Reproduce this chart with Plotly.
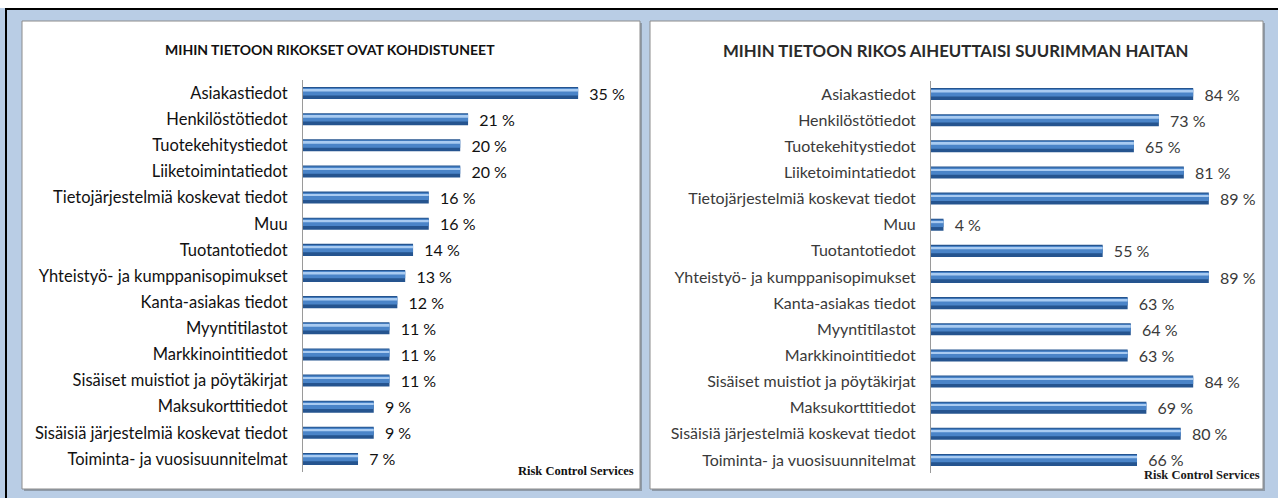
import plotly.graph_objects as go

W, H = 1278, 498

categories_left = [
    "Asiakastiedot", "Henkilöstötiedot", "Tuotekehitystiedot", "Liiketoimintatiedot",
    "Tietojärjestelmiä koskevat tiedot", "Muu", "Tuotantotiedot",
    "Yhteistyö- ja kumppanisopimukset", "Kanta-asiakas tiedot", "Myyntitilastot",
    "Markkinointitiedot", "Sisäiset muistiot ja pöytäkirjat", "Maksukorttitiedot",
    "Sisäisiä järjestelmiä koskevat tiedot", "Toiminta- ja vuosisuunnitelmat",
]
values_left = [35, 21, 20, 20, 16, 16, 14, 13, 12, 11, 11, 11, 9, 9, 7]

categories_right = [
    "Asiakastiedot", "Henkilöstötiedot", "Tuotekehitystiedot", "Liiketoimintatiedot",
    "Tietojärjestelmiä koskevat tiedot", "Muu", "Tuotantotiedot",
    "Yhteistyö- ja kumppanisopimukset", "Kanta-asiakas tiedot", "Myyntitilastot",
    "Markkinointitiedot", "Sisäiset muistiot ja pöytäkirjat", "Maksukorttitiedot",
    "Sisäisiä järjestelmiä koskevat tiedot", "Toiminta- ja vuosisuunnitelmat",
]
values_right = [84, 73, 65, 81, 89, 4, 55, 89, 63, 64, 63, 84, 69, 80, 66]

title_left = "MIHIN TIETOON RIKOKSET OVAT KOHDISTUNEET"
title_right = "MIHIN TIETOON RIKOS AIHEUTTAISI SUURIMMAN HAITAN"
source_text = "Risk Control Services"

FONT = "Lato"
BG = "#B9CDE5"
LBL = 16.5


def fx(x):
    return x / W


def fy(y):
    return 1 - y / H


fig = go.Figure()


def add_bars(cats, vals, xa, ya, textcolor):
    fig.add_trace(go.Bar(
        x=vals, y=cats, orientation="h", xaxis=xa, yaxis=ya,
        width=0.46, offset=-0.23,
        marker=dict(color="#25548F", line=dict(width=0)),
        text=vals, texttemplate="\u00a0\u00a0%{x} %", textposition="outside",
        constraintext="none", cliponaxis=False,
        textfont=dict(family=FONT, size=16, color=textcolor),
        hoverinfo="skip", showlegend=False,
    ))
    fig.add_trace(go.Bar(
        x=vals, y=cats, orientation="h", xaxis=xa, yaxis=ya,
        width=0.28, offset=-0.19,
        marker=dict(color="#4A84C8", line=dict(width=0)),
        hoverinfo="skip", showlegend=False,
    ))
    fig.add_trace(go.Bar(
        x=vals, y=cats, orientation="h", xaxis=xa, yaxis=ya,
        width=0.07, offset=-0.13,
        marker=dict(color="#A9CBF1", line=dict(width=0)),
        hoverinfo="skip", showlegend=False,
    ))


add_bars(categories_left, values_left, "x", "y", "#111111")
add_bars(categories_right, values_right, "x2", "y2", "#3A3A3A")

axis_common_y = dict(
    type="category", autorange="reversed", showgrid=False, zeroline=False,
    showline=True, linecolor="#9A9A9A", linewidth=1, ticks="",
    ticklabelstandoff=11,
)

fig.update_layout(
    width=W, height=H,
    margin=dict(l=0, r=0, t=0, b=0),
    paper_bgcolor=BG, plot_bgcolor="rgba(0,0,0,0)",
    barmode="overlay",
    xaxis=dict(domain=[fx(303), fx(630)], range=[0, 41.6], visible=False),
    yaxis=dict(domain=[fy(472), fy(80)], anchor="x",
               tickfont=dict(family=FONT, size=LBL, color="#111111"), **axis_common_y),
    xaxis2=dict(domain=[fx(931), fx(1250)], range=[0, 102.2], visible=False, anchor="y2"),
    yaxis2=dict(domain=[fy(473), fy(81)], anchor="x2",
                tickfont=dict(family=FONT, size=16, color="#3A3A3A"), **axis_common_y),
)

shapes = [
    dict(type="rect", x0=0, x1=1, y0=fy(8), y1=1, fillcolor="white", line=dict(width=0)),
    dict(type="line", x0=fx(5), x1=1, y0=fy(9), y1=fy(9), line=dict(color="black", width=2)),
    dict(type="line", x0=fx(6), x1=fx(6), y0=0, y1=fy(8), line=dict(color="black", width=2)),
]
for (x0, x1) in [(22, 640), (650, 1263)]:
    shapes.append(dict(type="rect", x0=fx(x0 + 2), x1=fx(x1 + 2), y0=fy(491), y1=fy(23),
                       fillcolor="#8E9AA8", line=dict(width=0)))
    shapes.append(dict(type="rect", x0=fx(x0), x1=fx(x1), y0=fy(489), y1=fy(21),
                       fillcolor="white", line=dict(color="#8C8C8C", width=1)))
for s in shapes:
    s.update(xref="paper", yref="paper", layer="below")
fig.update_layout(shapes=shapes)

fig.add_annotation(x=fx(330), y=fy(49), xref="paper", yref="paper", text="<b>" + title_left + "</b>",
                   showarrow=False, xanchor="center", yanchor="middle",
                   font=dict(family=FONT, size=14, color="#111111"))
fig.add_annotation(x=fx(955), y=fy(50), xref="paper", yref="paper", text="<b>" + title_right + "</b>",
                   showarrow=False, xanchor="center", yanchor="middle",
                   font=dict(family=FONT, size=16.8, color="#2A2A2A"))
fig.add_annotation(x=fx(636), y=fy(471), xref="paper", yref="paper", text="<b>" + source_text + "</b>",
                   showarrow=False, xanchor="right", yanchor="middle",
                   font=dict(family="Liberation Serif", size=12.5, color="#111111"))
fig.add_annotation(x=fx(1262), y=fy(475), xref="paper", yref="paper", text="<b>" + source_text + "</b>",
                   showarrow=False, xanchor="right", yanchor="middle",
                   font=dict(family="Liberation Serif", size=12.5, color="#1A1A1A"))

fig.write_html("out.html", config={"displayModeBar": False},
               post_script="document.body.style.margin='0';document.body.style.overflow='hidden';")
